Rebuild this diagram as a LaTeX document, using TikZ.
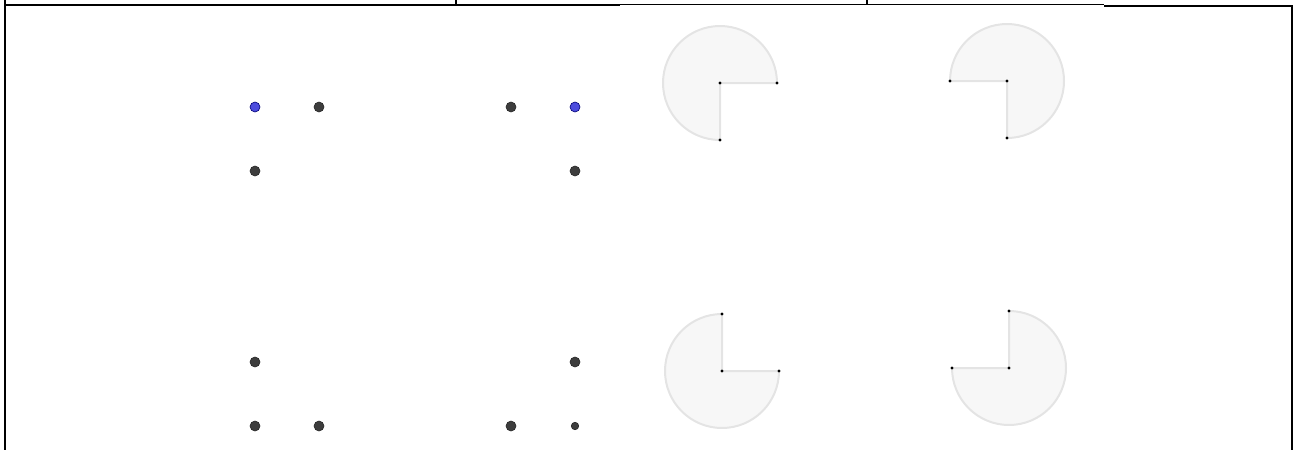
\documentclass[tikz,border=0pt]{standalone}
\usetikzlibrary{calc}

\definecolor{dotgray}{HTML}{3D3D3D}
\definecolor{dotblue}{HTML}{4C4CDD}
\definecolor{piefill}{HTML}{F7F7F7}
\definecolor{pieedge}{HTML}{E4E4E4}

\tikzset{
  gdot/.style={circle, fill=dotgray, draw=black!85, line width=0.6pt, inner sep=0pt, minimum size=10pt},
  bdot/.style={gdot, fill=dotblue, draw=blue!45!black},
  tdot/.style={circle, fill=black, inner sep=0pt, minimum size=3.2pt},
  pie/.style={fill=piefill, draw=pieedge, line width=2pt},
  spoke/.style={draw=pieedge, line width=1.4pt},
}

\begin{document}
\begin{tikzpicture}[x=1pt, y=-1pt, line cap=butt]
  \useasboundingbox (0,0) rectangle (1297,450);

  % frame
  \draw[line width=2pt] (5,0) -- (5,450);                  % left border
  \draw[line width=2pt] (4,5) -- (620,5);                  % top line
  \draw[line width=1pt] (620,4) -- (1104,4);
  \draw[line width=2pt] (1104,6) -- (1293,6);
  \draw[line width=2pt] (1292,5) -- (1292,450);            % right border
  \foreach \x in {456,867} {
    \draw[line width=1.5pt] (\x,0) -- (\x,4);               % column ticks
  }

  % corner dots
  \node[bdot] (a1) at (255,107) {};
  \node[gdot] (a2) at (319,107) {};
  \node[gdot] (a3) at (255,171) {};
  \node[gdot] (b1) at (511,107) {};
  \node[bdot] (b2) at (575,107) {};
  \node[gdot] (b3) at (575,171) {};
  \node[gdot] (c1) at (255,362) {};
  \node[gdot] (c2) at (255,426) {};
  \node[gdot] (c3) at (319,426) {};
  \node[gdot] (d1) at (575,362) {};
  \node[gdot] (d2) at (511,426) {};
  \node[gdot, minimum size=7.5pt] (d3) at (575,426) {};

  % pies (y axis points down, so angles turn clockwise)
  \coordinate (pa) at (720,83);
  \coordinate (pb) at (1007,81);
  \coordinate (pc) at (722,371);
  \coordinate (pd) at (1009,368);

  \path[pie] (pa) -- ++(57,0) arc[start angle=0, end angle=-270, radius=57] -- cycle;
  \path[pie] (pb) -- ++(0,57) arc[start angle=90, end angle=-180, radius=57] -- cycle;
  \path[pie] (pc) -- ++(0,-57) arc[start angle=-90, end angle=-360, radius=57] -- cycle;
  \path[pie] (pd) -- ++(-57,0) arc[start angle=180, end angle=-90, radius=57] -- cycle;

  \draw[spoke] ($(pa)+(57,0)$) -- (pa) -- ($(pa)+(0,57)$);
  \draw[spoke] ($(pb)+(-57,0)$) -- (pb) -- ($(pb)+(0,57)$);
  \draw[spoke] ($(pc)+(57,0)$) -- (pc) -- ($(pc)+(0,-57)$);
  \draw[spoke] ($(pd)+(-57,0)$) -- (pd) -- ($(pd)+(0,-57)$);

  \foreach \p/\dx/\dy in {pa/57/0, pa/0/57, pb/-57/0, pb/0/57,
                          pc/57/0, pc/0/-57, pd/-57/0, pd/0/-57} {
    \node[tdot] at ($(\p)+(\dx,\dy)$) {};
  }
  \foreach \p in {pa,pb,pc,pd} {
    \node[tdot] at (\p) {};
  }
\end{tikzpicture}
\end{document}
